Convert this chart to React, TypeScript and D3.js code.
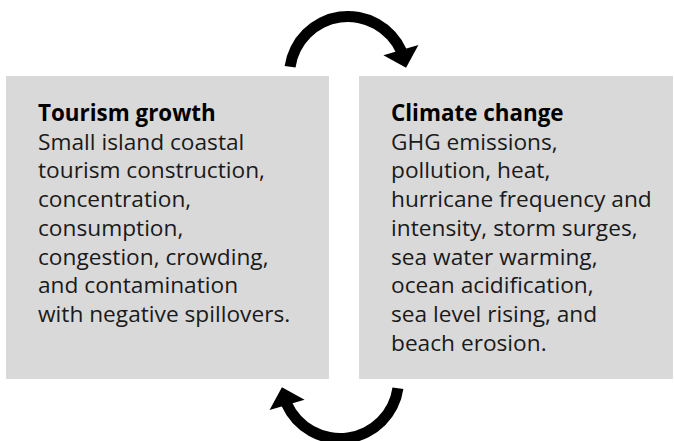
import * as d3 from "d3";

const W = 674;
const H = 441;

const titles = ["Tourism growth", "Climate change"];
const leftLines = [
  "Small island coastal",
  "tourism construction,",
  "concentration,",
  "consumption,",
  "congestion, crowding,",
  "and contamination",
  "with negative spillovers.",
];
const rightLines = [
  "GHG emissions,",
  "pollution, heat,",
  "hurricane frequency and",
  "intensity, storm surges,",
  "sea water warming,",
  "ocean acidification,",
  "sea level rising, and",
  "beach erosion.",
];

const FONT = "'Open Sans', Lato, sans-serif";
const LINE_H = 28.7;
const deg = Math.PI / 180;

// arrow around a circle: arc body + triangle head
function Arrow({ cx, cy, r, rotate }) {
  const body = d3
    .arc()
    .innerRadius(r - 5.5)
    .outerRadius(r + 5.5)
    .startAngle(-82 * deg)
    .endAngle(66 * deg)({} as any);
  const polar = (rad, a) => [rad * Math.sin(a * deg), -rad * Math.cos(a * deg)];
  const head = [polar(r - 18, 61), polar(r, 83), polar(r + 18, 67)];
  return (
    <g transform={`translate(${cx},${cy}) rotate(${rotate})`}>
      <path d={body} fill="#000" />
      <path d={d3.line()(head as any) + "Z"} fill="#000" />
    </g>
  );
}

function Box({ x, y, w, h, title, lines }) {
  return (
    <g>
      <rect x={x} y={y} width={w} height={h} fill="#d9d9d9" />
      <text x={x + 32} y={y + 45} fontFamily={FONT} fontWeight={700} fontSize={22.4} fill="#000">
        {title}
      </text>
      {lines.map((l, i) => (
        <text
          key={i}
          x={x + 32}
          y={y + 45 + LINE_H * (i + 1)}
          fontFamily={FONT}
          fontSize={22.7}
          fill="#1a1a1a"
        >
          {l}
        </text>
      ))}
    </g>
  );
}

export default function App() {
  return (
    <svg
      width={W}
      height={H}
      style={{ position: "absolute", left: 0, top: 0, background: "#fff" }}
    >
      <Box x={6} y={76} w={323} h={303} title={titles[0]} lines={leftLines} />
      <Box x={359} y={76} w={314} h={303} title={titles[1]} lines={rightLines} />
      <Arrow cx={348} cy={75} r={58.5} rotate={0} />
      <Arrow cx={340} cy={380} r={58.5} rotate={180} />
    </svg>
  );
}
